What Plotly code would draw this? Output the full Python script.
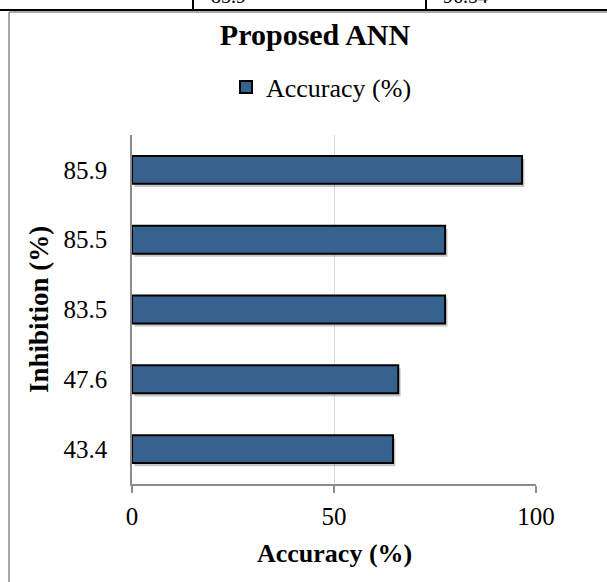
import plotly.graph_objects as go

# Data
inhibition = ["43.4", "47.6", "83.5", "85.5", "85.9"]
accuracy = [64.6, 65.9, 77.5, 77.5, 96.54]
x_ticks = [0, 50, 100]
table_cells = ["85.9", "96.54"]

W, H = 607, 582
L, R, T, B = 132, 71, 135, 98
PW, PH = W - L - R, H - T - B

def px(x):
    return (x - L) / PW

def py(y):
    return (H - B - y) / PH

FONT = "Liberation Serif"
BAR = "#37618f"

fig = go.Figure()
# soft drop shadow behind bars
fig.add_trace(go.Bar(
    y=inhibition, x=accuracy, orientation="h", showlegend=False, hoverinfo="skip",
    marker=dict(color="rgba(0,0,0,0.22)", line=dict(width=0)),
    width=0.4, offset=-0.245, base=0.6,
))
fig.add_trace(go.Bar(
    y=inhibition, x=accuracy, orientation="h", name="Accuracy (%)",
    marker=dict(color=BAR, line=dict(color="black", width=2)),
    width=0.4, offset=-0.2,
))

fig.update_layout(
    width=W, height=H, barmode="overlay",
    margin=dict(l=L, r=R, t=T, b=B, autoexpand=False),
    paper_bgcolor="white", plot_bgcolor="white",
    font=dict(family=FONT, color="black"),
    title=dict(text="<b>Proposed ANN</b>", x=315 / W, xanchor="center",
               y=1 - 34 / H, yanchor="middle", xref="container", yref="container",
               font=dict(size=30, family=FONT, color="black")),
    showlegend=True,
    legend=dict(orientation="h", x=px(226), xanchor="left", y=py(87), yanchor="middle",
                font=dict(size=26, family=FONT, color="black"), bgcolor="rgba(0,0,0,0)"),
    xaxis=dict(range=[0, 100], tickvals=x_ticks, ticktext=[str(v) for v in x_ticks],
               showgrid=True, gridcolor="#d9d9d9", gridwidth=1,
               showline=True, linecolor="#8c8c8c", linewidth=1.5,
               ticks="outside", ticklen=7, tickcolor="#8c8c8c", tickwidth=1.5,
               tickfont=dict(size=25, family=FONT, color="black"),
               ticklabelstandoff=2, zeroline=False, fixedrange=True),
    yaxis=dict(type="category", categoryorder="array", categoryarray=inhibition,
               range=[-0.5, 4.5],
               showline=True, linecolor="#8c8c8c", linewidth=1.5,
               showgrid=False, ticks="", tickfont=dict(size=25, family=FONT, color="black"),
               ticklabelstandoff=18, fixedrange=True),
)

# axis titles
fig.add_annotation(text="<b>Accuracy (%)</b>", x=px(334), y=py(553), xref="paper", yref="paper",
                   xanchor="center", yanchor="middle", showarrow=False,
                   font=dict(size=26, family=FONT, color="black"))
fig.add_annotation(text="<b>Inhibition (%)</b>", x=px(39), y=py(310), xref="paper", yref="paper",
                   xanchor="center", yanchor="middle", showarrow=False, textangle=-90,
                   font=dict(size=27, family=FONT, color="black"))

# chart border (gray) and table fragment above
fig.add_shape(type="line", x0=px(9), x1=px(W + 5), y0=py(12), y1=py(12), xref="paper", yref="paper",
              line=dict(color="#8c8c8c", width=1.5))
fig.add_shape(type="line", x0=px(9), x1=px(9), y0=py(12), y1=py(H + 5), xref="paper", yref="paper",
              line=dict(color="#8c8c8c", width=1.5))
fig.add_shape(type="line", x0=px(-5), x1=px(W + 5), y0=py(10), y1=py(10), xref="paper", yref="paper",
              line=dict(color="black", width=2))
for vx in (193, 426):
    fig.add_shape(type="line", x0=px(vx), x1=px(vx), y0=py(10), y1=py(-5), xref="paper", yref="paper",
                  line=dict(color="black", width=2))
for txt, tx in zip(table_cells, (209, 441)):
    fig.add_annotation(text=txt, x=px(tx), y=py(-4), xref="paper", yref="paper",
                       xanchor="left", yanchor="middle", showarrow=False,
                       font=dict(size=20, family=FONT, color="black"))

fig.write_html("out.html")
